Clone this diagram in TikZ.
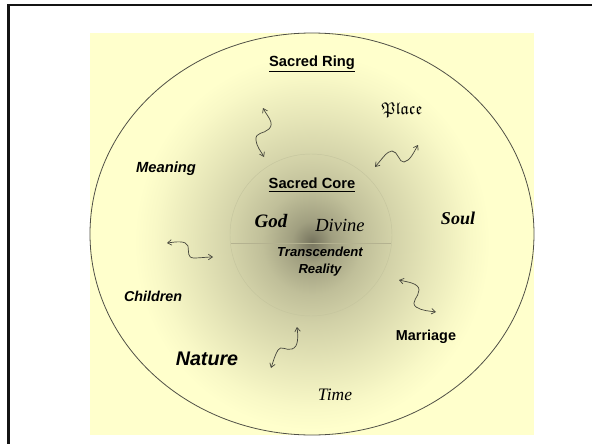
\documentclass[tikz,border=0pt]{standalone}
\usepackage{amsfonts}
\usepackage{fontspec}
\setmainfont{Liberation Serif}
\newfontfamily\arialf{Liberation Sans}
\usetikzlibrary{arrows.meta}
\definecolor{ringY}{RGB}{255,255,204}
\definecolor{cA}{RGB}{118,116,94}
\colorlet{gA}{cA!69!ringY}
\colorlet{gB}{cA!46!ringY}
\colorlet{gC}{cA!33!ringY}
\colorlet{gD}{cA!18!ringY}
\colorlet{gE}{cA!5!ringY}
\definecolor{ringline}{RGB}{80,80,70}
\definecolor{arrowgray}{RGB}{70,70,60}
\colorlet{coreline}{cA!42!ringY}
\pgfdeclareradialshading{coreglow}{\pgfpoint{0bp}{0bp}}{color(0bp)=(cA); color(2.8bp)=(gA); color(7bp)=(gB); color(11bp)=(gC); color(16.7bp)=(gD); color(22bp)=(gE); color(25bp)=(ringY); color(50bp)=(ringY)}
\begin{document}
\begin{tikzpicture}[x=1pt,y=-1pt,
  lbl/.style={inner sep=0pt, anchor=center, text=black},
  sansb/.style={lbl, font=\arialf\bfseries\fontsize{#1}{#1}\selectfont},
  sansbi/.style={lbl, font=\arialf\bfseries\itshape\fontsize{#1}{#1}\selectfont},
  wavy/.style={draw=arrowgray, line width=0.7pt,
    {Straight Barb[length=4pt,width=5.5pt]}-{Straight Barb[length=4pt,width=5.5pt]}}]
\useasboundingbox (0,0) rectangle (592,444);
\fill[white] (0,0) rectangle (592,444);
% frame
\draw[line width=2.7pt, black!92, line join=miter] (8.6,444) -- (8.6,5) -- (592,5);
% yellow panel with glow
\fill[ringY] (90,33) rectangle (534,435);
\begin{scope}
  \clip (90,33) rectangle (534,435);
  \shade[shading=coreglow] (312,242) ellipse[x radius=178pt, y radius=188pt];
\end{scope}
% rings
\draw[ringline, line width=0.8pt] (312,234) ellipse[x radius=222pt, y radius=201pt];
\draw[coreline, line width=0.45pt] (311,235) circle[radius=81pt];
\draw[cA!55!ringY, line width=0.5pt] (230.6,243) -- (391.4,243);
% labels
\node[sansb=14.7] (ring) at (312,64) {\underline{Sacred Ring}};
\node[lbl, font=\fontsize{17}{17}\selectfont] (place) at (402,110) {$\mathfrak{Place}$};
\node[sansbi=14.7] (meaning) at (166,169) {Meaning};
\node[sansb=14.7] (core) at (312,185) {\underline{Sacred Core}};
\node[lbl, font=\bfseries\itshape\fontsize{19}{19}\selectfont] (god) at (271,221) {God};
\node[lbl, font=\itshape\fontsize{18.5}{18.5}\selectfont] (divine) at (340,225) {Divine};
\node[lbl, font=\bfseries\itshape\fontsize{18}{18}\selectfont] (soul) at (458,218) {Soul};
\node[lbl, align=center, font=\arialf\bfseries\itshape\fontsize{13.1}{17}\selectfont] (trans) at (320,262) {Transcendent\\Reality};
\node[sansbi=14.3] (children) at (153,296) {Children};
\node[sansb=14.4] (marriage) at (426,337) {Marriage};
\node[sansbi=19.7] (nature) at (207,359) {Nature};
\node[lbl, font=\itshape\fontsize{17.5}{17.5}\selectfont] (time) at (335,395) {Time};
% arrow end points
\coordinate (a1s) at (263,108); \coordinate (a1e) at (264,157);
\coordinate (a2s) at (375,167); \coordinate (a2e) at (418,145);
\coordinate (a3s) at (167,243); \coordinate (a3e) at (213,257);
\coordinate (a4s) at (399,280); \coordinate (a4e) at (436,312);
\coordinate (a5s) at (297,327); \coordinate (a5e) at (271,368);
% wavy double arrows
\draw[wavy] (a1s) .. controls (267,116) and (275,123) .. (269,129)
  .. controls (264,134) and (255,132) .. (256,140)
  .. controls (257,148) and (261,151) .. (a1e);
\draw[wavy] (a2s) .. controls (382,159) and (387,151) .. (392,151)
  .. controls (398,151) and (399,163) .. (404,162)
  .. controls (410,161) and (414,152) .. (a2e);
\draw[wavy] (a3s) .. controls (175,242) and (186,240) .. (188,246)
  .. controls (189,252) and (187,258) .. (194,258)
  .. controls (200,258) and (207,257) .. (a3e);
\draw[wavy] (a4s) .. controls (407,282) and (419,283) .. (419,290)
  .. controls (419,297) and (410,302) .. (416,307)
  .. controls (422,311) and (430,311) .. (a4e);
\draw[wavy] (a5s) .. controls (298,335) and (299,347) .. (292,349)
  .. controls (286,351) and (281,345) .. (278,350)
  .. controls (275,355) and (273,362) .. (a5e);
\end{tikzpicture}
\end{document}
